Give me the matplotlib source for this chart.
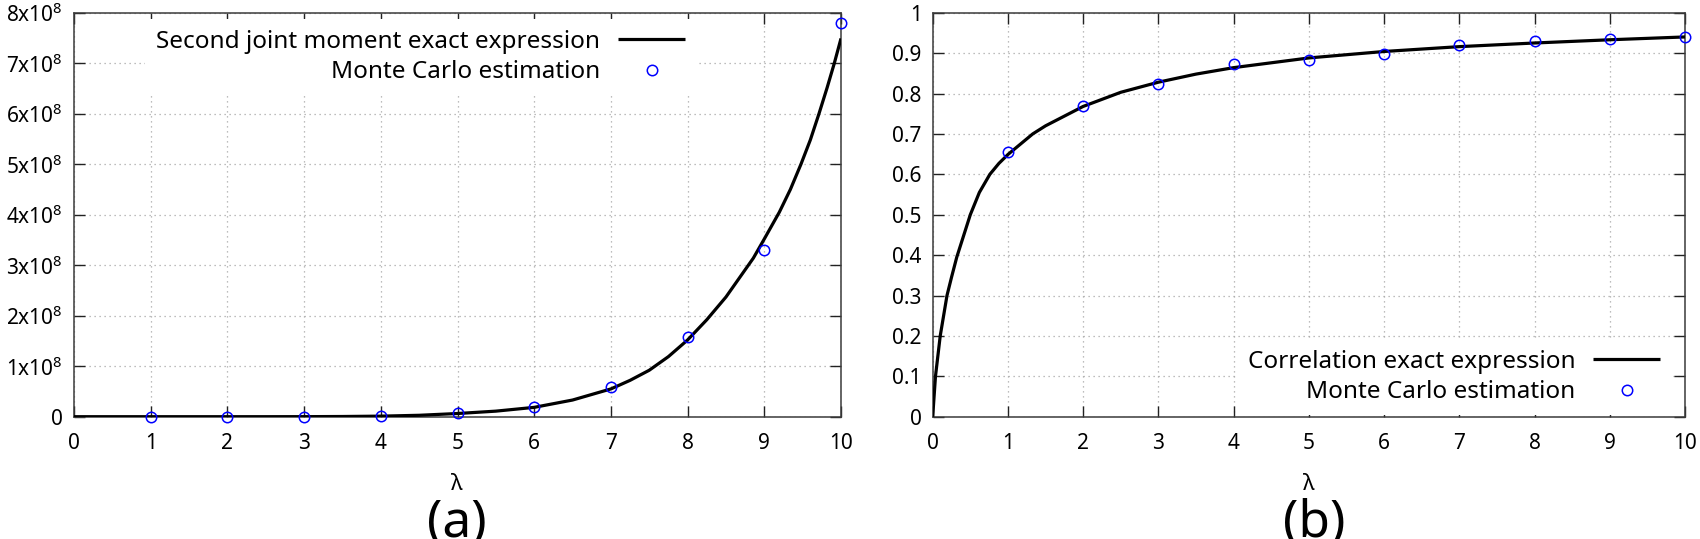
import matplotlib
matplotlib.use("Agg")
import matplotlib.pyplot as plt
from matplotlib.ticker import FixedLocator, FixedFormatter

plt.rcParams['font.family'] = ['Noto Sans', 'DejaVu Sans']
plt.rcParams['mathtext.fontset'] = 'custom'
plt.rcParams['mathtext.rm'] = 'Noto Sans'
plt.rcParams['mathtext.it'] = 'Noto Sans:italic'
plt.rcParams['mathtext.bf'] = 'Noto Sans:bold'

# ---------------- data ----------------
lam_points = [1, 2, 3, 4, 5, 6, 7, 8, 9, 10]

# (a) second joint moment, units of 1e8
moment_lam = [0, 0.5, 1, 1.5, 2, 2.5, 3, 3.5, 4, 4.5, 5, 5.5, 6, 6.5, 7, 7.25,
              7.5, 7.75, 8, 8.25, 8.5, 8.857, 9.0, 9.196, 9.34, 9.478, 9.6,
              9.713, 9.82, 9.913, 10]
moment_exact = [0, 0, 0, 0, 0, 0.0002, 0.001, 0.004, 0.011, 0.028, 0.063, 0.11,
                0.185, 0.33, 0.55, 0.72, 0.92, 1.19, 1.52, 1.92, 2.37, 3.14,
                3.52, 4.05, 4.50, 5.0, 5.48, 6.0, 6.52, 7.0, 7.49]
moment_mc = [0.0, 0.0, 0.0, 0.005, 0.067, 0.198, 0.58, 1.58, 3.30, 7.80]
moment_ticks = [0, 1, 2, 3, 4, 5, 6, 7, 8]
moment_ticklabels = ['0'] + [r'%dx10$^{\mathregular{8}}$' % k for k in range(1, 9)]

# (b) correlation
corr_lam = [0, 0.037, 0.10, 0.19, 0.25, 0.32, 0.50, 0.62, 0.76, 0.88, 1.0, 1.33,
            1.5, 2.0, 2.5, 3.0, 3.5, 4.0, 5.0, 6.0, 7.0, 8.0, 9.0, 10.0]
corr_exact = [0, 0.1, 0.2, 0.3, 0.345, 0.395, 0.5, 0.555, 0.6, 0.627, 0.649, 0.70,
              0.72, 0.768, 0.803, 0.828, 0.848, 0.864, 0.888, 0.904, 0.916, 0.925,
              0.933, 0.940]
corr_mc = [0.655, 0.769, 0.823, 0.873, 0.883, 0.898, 0.921, 0.929, 0.934, 0.9395]
corr_ticks = [0, 0.1, 0.2, 0.3, 0.4, 0.5, 0.6, 0.7, 0.8, 0.9, 1]
corr_ticklabels = ['0', '0.1', '0.2', '0.3', '0.4', '0.5', '0.6', '0.7', '0.8', '0.9', '1']

x_ticks = [0, 1, 2, 3, 4, 5, 6, 7, 8, 9, 10]

legend_a = ['Second joint moment exact expression', 'Monte Carlo estimation']
legend_b = ['Correlation exact expression', 'Monte Carlo estimation']

# ---------------- figure ----------------
W, H = 1700, 539
fig = plt.figure(figsize=(W / 100, H / 100), dpi=100)

def fx(px):
    return px / W

def fy(py):
    return (H - py) / H

ax1 = fig.add_axes([fx(74), fy(416.7), fx(841 - 74), (416.7 - 12.7) / H])
ax2 = fig.add_axes([fx(932.7), fy(416.7), fx(1685 - 932.7), (416.7 - 12.7) / H])

TICK_FS = 15
LEG_FS = 17.5

def style(ax):
    ax.set_xlim(0, 10)
    for s in ax.spines.values():
        s.set_color('#3a3a3a')
        s.set_linewidth(1.1)
    ax.tick_params(direction='in', length=8, width=1.0, color='#222222',
                   top=True, right=True, labelsize=TICK_FS)
    ax.tick_params(axis='x', pad=12)
    ax.tick_params(axis='y', pad=8)
    ax.xaxis.set_major_locator(FixedLocator(x_ticks))
    ax.set_xticklabels([str(t) for t in x_ticks])
    ax.grid(True, color='#a8a8a8', linestyle=(0, (1, 3)), linewidth=0.9)
    ax.set_axisbelow(True)

leg_kw = dict(markerfirst=False, fontsize=LEG_FS, frameon=True, fancybox=False,
              edgecolor='none', facecolor='white', framealpha=1,
              borderpad=0.45, borderaxespad=0, handlelength=2.75,
              handletextpad=0.74, labelspacing=0.25)

# panel (a)
style(ax1)
ax1.set_ylim(0, 8)
ax1.yaxis.set_major_locator(FixedLocator(moment_ticks))
ax1.yaxis.set_major_formatter(FixedFormatter(moment_ticklabels))
ax1.plot(moment_lam, moment_exact, color='black', lw=2.3, label=legend_a[0],
         solid_capstyle='butt', solid_joinstyle='round', zorder=3)
ax1.plot(lam_points, moment_mc, linestyle='none', marker='o', ms=7.5,
         mfc='none', mec='#0000ff', mew=1.1, label=legend_a[1], clip_on=False, zorder=4)
ax1.legend(loc='upper right', bbox_to_anchor=(fx(696), fy(19)),
           bbox_transform=fig.transFigure, **leg_kw)

# panel (b)
style(ax2)
ax2.set_ylim(0, 1)
ax2.yaxis.set_major_locator(FixedLocator(corr_ticks))
ax2.yaxis.set_major_formatter(FixedFormatter(corr_ticklabels))
ax2.plot(corr_lam, corr_exact, color='black', lw=2.3, label=legend_b[0],
         solid_capstyle='butt', solid_joinstyle='round', zorder=3)
ax2.plot(lam_points, corr_mc, linestyle='none', marker='o', ms=7.5,
         mfc='none', mec='#0000ff', mew=1.1, label=legend_b[1], clip_on=False, zorder=4)
ax2.legend(loc='lower right', bbox_to_anchor=(fx(1671), fy(415)),
           bbox_transform=fig.transFigure, **leg_kw)

# axis labels and panel labels
fig.text(fx(457), fy(490.5), 'λ', ha='center', va='baseline', fontsize=16)
fig.text(fx(1309), fy(490.5), 'λ', ha='center', va='baseline', fontsize=16)
fig.text(fx(457), fy(536.5), '(a)', ha='center', va='baseline', fontsize=37)
fig.text(fx(1314), fy(536.5), '(b)', ha='center', va='baseline', fontsize=37)

fig.savefig('out.png', dpi=100)
